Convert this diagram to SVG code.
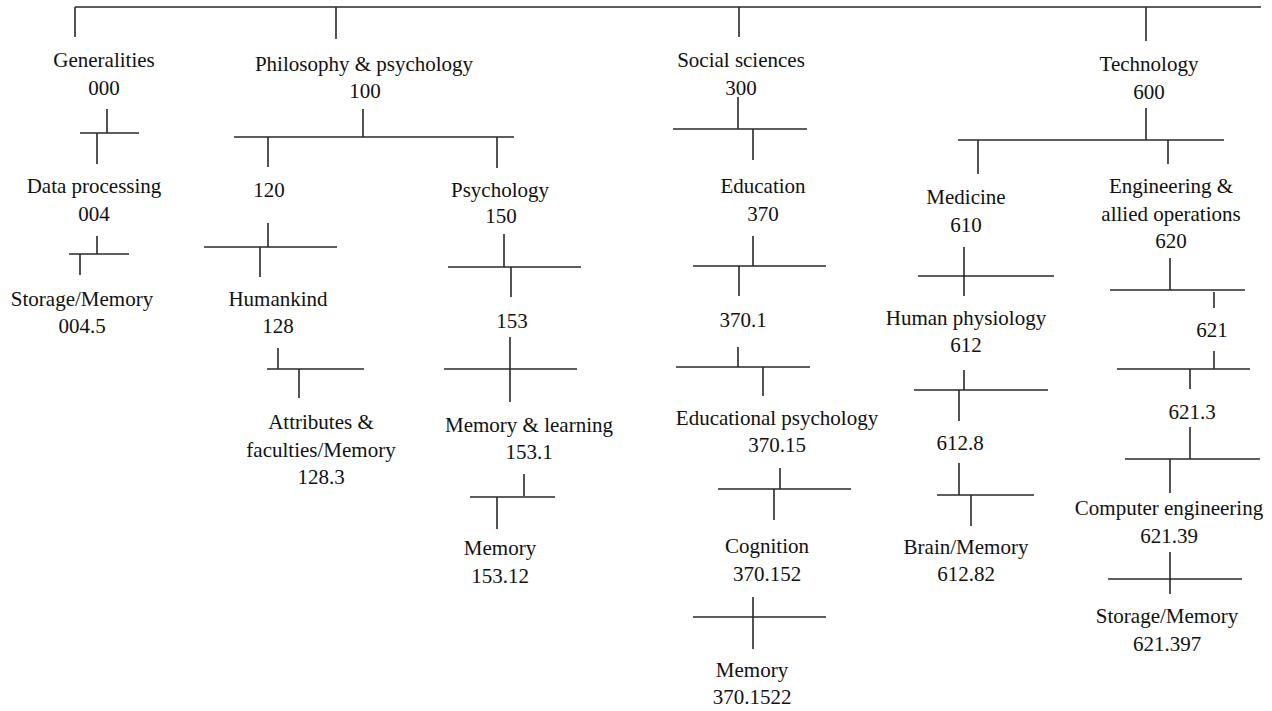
<svg xmlns="http://www.w3.org/2000/svg" width="1272" height="711" viewBox="0 0 1272 711">
<style>
text{font-family:"Liberation Serif","Times New Roman",serif;font-size:21px;fill:#111;text-anchor:middle}
.c{fill:none;stroke:#2a2a2a;stroke-width:1.6}
</style>
<rect width="1272" height="711" fill="#fff"/>
<g id="connectors" class="c">
<path d="M75 7H1261M75 7V37M336 7V39M739 7V37M1146 7V41"/>
<path d="M107 109V133M80 133H139M97 133V164M97 236V254M69 254H129M80 254V275"/>
<path d="M363 109V137M234 137H514M268 137V167M497 137V168M268 223V247M204 247H337M260 247V277M278 348V369M267 369H364M299 369V398"/>
<path d="M504 234V267M448 267H581M511 267V297M510 337V402M444 369H577M524 474V496M470 497H555M497 497V529"/>
<path d="M738 97V129M673 129H807M753 129V160M753 236V266M693 266H826M739 266V296M738 347V367M676 367H810M763 367V396M780 468V489M718 489H851M774 489V520M753 597V649M693 617H826"/>
<path d="M1146 108V140M958 140H1224M978 140V174M1168 140V164M964 247V296M918 276H1054M964 370V390M914 390H1048M959 390V421M959 463V495M937 495H1034M971 495V526"/>
<path d="M1170 258V290M1110 290H1245M1214 292V308M1214 351V369M1117 369H1250M1190 369V389M1190 427V459M1125 459H1260M1170 459V493M1170 552V594M1108 579H1242"/>
</g>
<g id="n000"><text x="104" y="67">Generalities</text><text x="104" y="95">000</text></g>
<g id="n004"><text x="94" y="193">Data processing</text><text x="94" y="221">004</text></g>
<g id="n004-5"><text x="82" y="306">Storage/Memory</text><text x="82" y="333">004.5</text></g>
<g id="n100"><text x="364" y="71">Philosophy &amp; psychology</text><text x="365" y="98">100</text></g>
<g id="n120"><text x="269" y="197">120</text></g>
<g id="n128"><text x="278" y="306">Humankind</text><text x="278" y="333">128</text></g>
<g id="n128-3"><text x="321" y="429">Attributes &amp;</text><text x="321" y="457">faculties/Memory</text><text x="321" y="484">128.3</text></g>
<g id="n150"><text x="500" y="197">Psychology</text><text x="501" y="223">150</text></g>
<g id="n153"><text x="512" y="328">153</text></g>
<g id="n153-1"><text x="529" y="432">Memory &amp; learning</text><text x="529" y="459">153.1</text></g>
<g id="n153-12"><text x="500" y="555">Memory</text><text x="500" y="583">153.12</text></g>
<g id="n300"><text x="741" y="67">Social sciences</text><text x="741" y="95">300</text></g>
<g id="n370"><text x="763" y="193">Education</text><text x="763" y="221">370</text></g>
<g id="n370-1"><text x="743" y="327">370.1</text></g>
<g id="n370-15"><text x="777" y="425">Educational psychology</text><text x="777" y="452">370.15</text></g>
<g id="n370-152"><text x="767" y="553">Cognition</text><text x="767" y="581">370.152</text></g>
<g id="n370-1522"><text x="752" y="677">Memory</text><text x="752" y="704">370.1522</text></g>
<g id="n600"><text x="1149" y="71">Technology</text><text x="1149" y="99">600</text></g>
<g id="n610"><text x="966" y="204">Medicine</text><text x="966" y="232">610</text></g>
<g id="n612"><text x="966" y="325">Human physiology</text><text x="966" y="352">612</text></g>
<g id="n612-8"><text x="960" y="450">612.8</text></g>
<g id="n612-82"><text x="966" y="554">Brain/Memory</text><text x="966" y="581">612.82</text></g>
<g id="n620"><text x="1171" y="193">Engineering &amp;</text><text x="1171" y="221">allied operations</text><text x="1171" y="248">620</text></g>
<g id="n621"><text x="1212" y="337">621</text></g>
<g id="n621-3"><text x="1192" y="419">621.3</text></g>
<g id="n621-39"><text x="1169" y="515">Computer engineering</text><text x="1169" y="543">621.39</text></g>
<g id="n621-397"><text x="1167" y="623">Storage/Memory</text><text x="1167" y="651">621.397</text></g>
</svg>
